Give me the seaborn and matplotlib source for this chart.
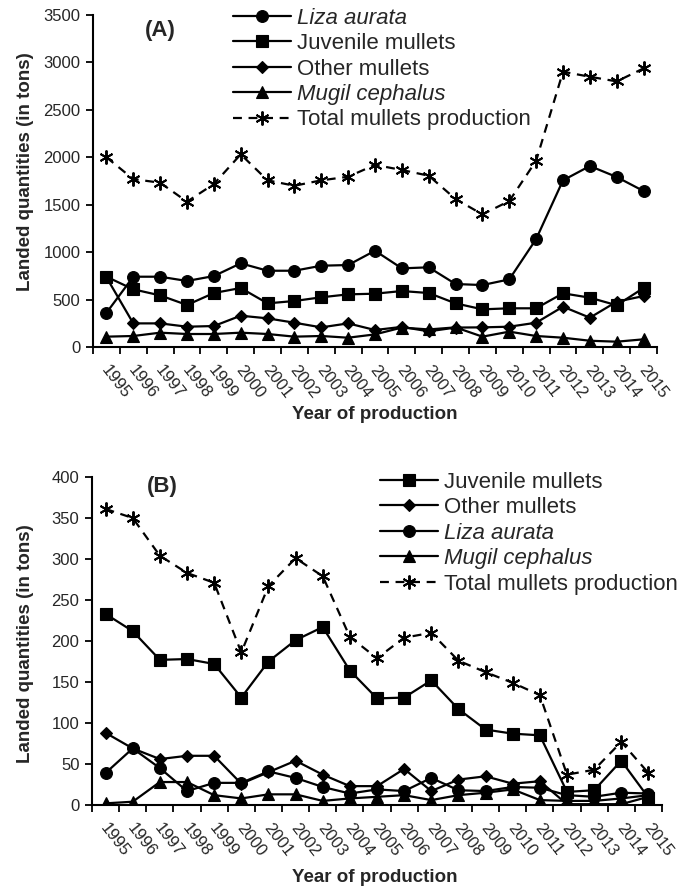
import matplotlib
matplotlib.use("Agg")
import matplotlib.pyplot as plt
from matplotlib.transforms import ScaledTranslation
from matplotlib.ticker import FixedLocator, NullFormatter
import seaborn as sns
import numpy as np

sns.set_style("ticks")
plt.rcParams["font.family"] = ["Liberation Sans", "DejaVu Sans"]

years = [str(y) for y in range(1995, 2016)]

# Panel (A) landings, tons
liza_A = [360, 741, 741, 696, 748, 882, 804, 804, 857, 864, 1015, 829, 840, 664, 653, 713, 1138, 1757, 1908, 1792, 1644]
juvenile_A = [741, 608, 544, 443, 569, 622, 460, 485, 524, 555, 562, 590, 569, 460, 397, 408, 408, 566, 520, 440, 622]
other_A = [735, 249, 249, 214, 221, 330, 302, 256, 207, 249, 179, 212, 165, 205, 207, 214, 256, 425, 309, 478, 537]
mugil_A = [109, 116, 151, 137, 137, 151, 137, 109, 116, 98, 133, 205, 185, 207, 109, 162, 116, 98, 66, 56, 81]
total_A = [2000, 1770, 1732, 1532, 1718, 2031, 1757, 1700, 1757, 1795, 1920, 1866, 1806, 1560, 1398, 1539, 1964, 2902, 2849, 2800, 2937]

# Panel (B) landings, tons
juvenile_B = [233, 212, 177, 178, 172, 131, 175, 201, 217, 164, 130, 131, 152, 117, 92, 87, 85, 16, 18, 54, 9]
other_B = [88, 69, 56, 60, 60, 26, 40, 54, 37, 23, 23, 44, 17, 31, 35, 26, 29, 1, 1, 1, 10]
liza_B = [39, 69, 45, 17, 27, 27, 41, 33, 22, 14, 19, 17, 33, 18, 17, 22, 21, 12, 10, 15, 14]
mugil_B = [2, 4, 28, 28, 12, 8, 13, 13, 5, 8, 10, 12, 6, 12, 15, 19, 6, 5, 5, 8, 12]
total_B = [361, 350, 304, 283, 271, 186, 267, 301, 279, 205, 179, 204, 210, 176, 162, 149, 134, 37, 43, 77, 39]

styles = {
    "Liza aurata": dict(marker="o", markersize=8.5, italic=True),
    "Juvenile mullets": dict(marker="s", markersize=8.5, italic=False),
    "Other mullets": dict(marker="D", markersize=6.5, italic=False),
    "Mugil cephalus": dict(marker="^", markersize=8.5, italic=True),
    "Total mullets production": dict(marker=(6, 2, 0), markersize=10, italic=False),
}

W, H = 690, 892
fig = plt.figure(figsize=(W / 100, H / 100), dpi=100)


def px_axes(l, t, r, b):
    return fig.add_axes([l / W, 1 - b / H, (r - l) / W, (b - t) / H])


ax_a = px_axes(93, 15, 657, 347)
ax_b = px_axes(92, 477, 662, 805)

x = np.arange(len(years))


def draw(ax, series):
    handles = []
    for name, vals in series:
        st = styles[name]
        dashed = name.startswith("Total")
        sns.lineplot(x=x, y=vals, ax=ax, color="black", linewidth=1.6,
                     marker=st["marker"], markersize=st["markersize"],
                     markeredgecolor="black", markerfacecolor="black",
                     markeredgewidth=1.4 if dashed else 0.8,
                     label=name, legend=False)
        line = ax.lines[-1]
        if dashed:
            line.set_dashes([4, 3])
        handles.append(line)
    return handles


def style_axis(ax, ymax, ystep, lab_shift_px):
    ax.set_xlim(-0.5, len(years) - 0.5)
    ax.set_ylim(0, ymax)
    ax.set_yticks(np.arange(0, ymax + 1, ystep))
    ax.set_xticks(x)
    ax.set_xticklabels(years, rotation=-52, ha="left", va="top", fontsize=12)
    ax.xaxis.set_minor_locator(FixedLocator(np.arange(-0.5, len(years), 1.0)))
    ax.xaxis.set_minor_formatter(NullFormatter())
    ax.tick_params(axis="x", which="major", length=0, pad=11)
    ax.tick_params(axis="x", which="minor", length=5, width=1.3, direction="out", color="black")
    ax.tick_params(axis="y", length=5, width=1.3, direction="out", labelsize=12, pad=4, color="black")
    for lbl in ax.get_xticklabels():
        lbl.set_transform(lbl.get_transform() + ScaledTranslation(lab_shift_px / 100, 0, fig.dpi_scale_trans))
    for s in ["top", "right"]:
        ax.spines[s].set_visible(False)
    for s in ["left", "bottom"]:
        ax.spines[s].set_linewidth(1.5)
        ax.spines[s].set_color("black")
    ax.set_xlabel("")
    ax.set_ylabel("")
    ax.grid(False)


def make_legend(ax, handles, anchor):
    leg = ax.legend(handles=handles, loc="upper left", bbox_to_anchor=anchor,
                    frameon=False, fontsize=16, handlelength=2.6,
                    handletextpad=0.3, labelspacing=0.2, borderpad=0,
                    borderaxespad=0)
    for txt in leg.get_texts():
        if styles[txt.get_text()]["italic"]:
            txt.set_fontstyle("italic")
    return leg


h_a = draw(ax_a, [("Liza aurata", liza_A), ("Juvenile mullets", juvenile_A),
                  ("Other mullets", other_A), ("Mugil cephalus", mugil_A),
                  ("Total mullets production", total_A)])
style_axis(ax_a, 3500, 500, -8)
make_legend(ax_a, h_a, (0.248, 1.022))
ax_a.text(0.119, 0.952, "(A)", transform=ax_a.transAxes, ha="center", va="center",
          fontsize=16, fontweight="bold")

h_b = draw(ax_b, [("Juvenile mullets", juvenile_B), ("Other mullets", other_B),
                  ("Liza aurata", liza_B), ("Mugil cephalus", mugil_B),
                  ("Total mullets production", total_B)])
style_axis(ax_b, 400, 50, -8)
make_legend(ax_b, h_b, (0.505, 1.016))
ax_b.text(0.123, 0.97, "(B)", transform=ax_b.transAxes, ha="center", va="center",
          fontsize=16, fontweight="bold")

narrow = ["Liberation Sans Narrow", "Liberation Sans", "DejaVu Sans"]
for yc in (172, 644):
    fig.text(25.5 / W, 1 - yc / H, "Landed quantities (in tons)", rotation=90,
             ha="center", va="center", fontsize=13.5, fontweight="bold", family=narrow)
for yc in (415, 878):
    fig.text(375 / W, 1 - yc / H, "Year of production", ha="center", va="center",
             fontsize=13.5, fontweight="bold", family=narrow)

fig.savefig("out.png", dpi=100, facecolor="white")
